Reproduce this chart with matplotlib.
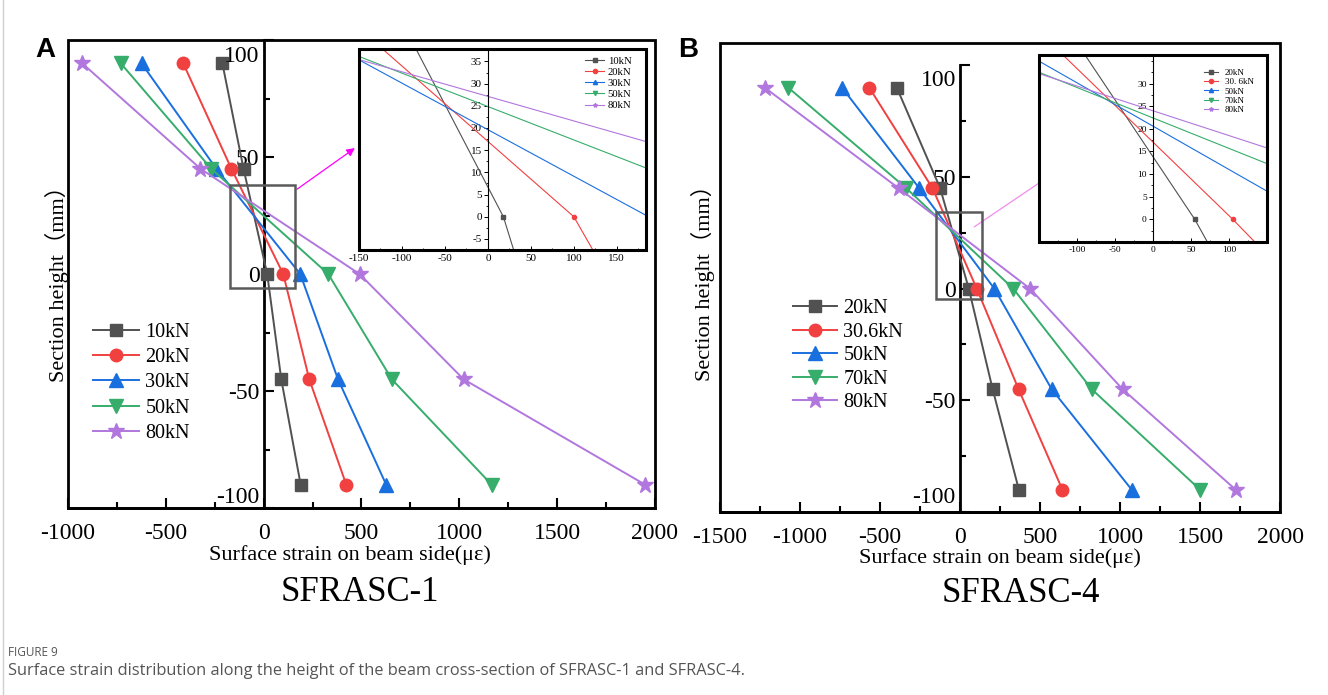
import numpy as np
import matplotlib
matplotlib.use('Agg')
import matplotlib.pyplot as plt
from matplotlib.patches import Rectangle
from matplotlib.lines import Line2D

plt.rcParams['font.family'] = ['Liberation Serif', 'Noto Sans CJK SC']
plt.rcParams['axes.unicode_minus'] = False

# ---- data (strain in micro-strain, height in mm) ----
heights = [90, 45, 0, -45, -90]

labels_1 = ['10kN', '20kN', '30kN', '50kN', '80kN']
s1_10kN = [-211, -103, 18, 90, 189]
s1_20kN = [-411, -165, 100, 233, 422]
s1_30kN = [-624, -242, 187, 380, 626]
s1_50kN = [-730, -268, 330, 655, 1165]
s1_80kN = [-927, -323, 490, 1022, 1949]

labels_4 = ['20kN', '30.6kN', '50kN', '70kN', '80kN']
inset_labels_4 = ['20kN', '30. 6kN', '50kN', '70kN', '80kN']
s4_20kN = [-395, -124, 55, 204, 368]
s4_306kN = [-567, -172, 105, 366, 640]
s4_50kN = [-737, -255, 215, 573, 1073]
s4_70kN = [-1073, -336, 333, 823, 1500]
s4_80kN = [-1220, -384, 438, 1016, 1723]

COLORS = ['#515151', '#F14040', '#1A6FDF', '#37AD6B', '#B177DE']
MARKERS = ['s', 'o', '^', 'v', '*']
MSIZE = [8, 9, 9.5, 9.5, 12]

W, H = 1328, 695


def fig_box(left, top, right, bottom):
    """pixel box -> figure fraction rect"""
    return [left / W, 1 - bottom / H, (right - left) / W, (bottom - top) / H]


def add_frame(ax, lw):
    ax.add_patch(Rectangle((0, 0), 1, 1, transform=ax.transAxes, fill=False,
                           lw=lw, ec='black', clip_on=False, zorder=6))


def main_panel(ax, series, labels, xlim, ylim, xmaj, end_pos):
    for vals, lab, c, m, ms in zip(series, labels, COLORS, MARKERS, MSIZE):
        ax.plot(vals, heights, color=c, marker=m, ms=ms, lw=1.4,
                mec=c, label=lab, clip_on=False, zorder=3)
    ax.set_xlim(*xlim)
    ax.set_ylim(*ylim)
    ax.spines['left'].set_position(('data', 0))
    ax.spines['left'].set_bounds(-100, 100)
    for s in ['top', 'right']:
        ax.spines[s].set_visible(False)
    for s in ['left', 'bottom']:
        ax.spines[s].set_linewidth(2)
    ax.set_xticks(np.arange(xlim[0], xlim[1] + 1, xmaj))
    ax.set_xticks(np.arange(xlim[0], xlim[1] + 1, xmaj / 2), minor=True)
    # end labels are nudged inward in the original, drawn separately below
    ax.set_yticks([-100, -50, 0, 50, 100], labels=['', '-50', '0', '50', ''])
    ax.set_yticks([-75, -25, 25, 75], minor=True)
    ax.tick_params(which='both', direction='in', width=1.5, labelsize=17)
    ax.tick_params(which='major', length=7)
    ax.tick_params(which='minor', length=4)
    ax.tick_params(axis='x', pad=11)
    ax.tick_params(axis='y', pad=3)
    for txt, y in zip(['100', '-100'], end_pos):
        ax.annotate(txt, xy=(0, y), xytext=(-3, 0), textcoords='offset points',
                    ha='right', va='center', fontsize=17)
    add_frame(ax, 2)


def inset_panel(ax, series, labels, xlim, ylim, xticks, yticks, fs, leg_kw):
    for vals, lab, c, m in zip(series, labels, COLORS, MARKERS):
        ax.plot(vals, heights, color=c, marker=m, ms=3, lw=0.8, label=lab)
    ax.set_xlim(*xlim)
    ax.set_ylim(*ylim)
    ax.spines['left'].set_position(('data', 0))
    for s in ['top', 'right']:
        ax.spines[s].set_visible(False)
    ax.spines['left'].set_linewidth(0.8)
    ax.set_xticks(xticks, labels=[str(v) for v in xticks])
    ax.set_xticks(np.arange(xlim[0] // 25 * 25, xlim[1], 25), minor=True)
    ax.set_yticks(yticks, labels=[str(v) for v in yticks])
    ax.set_yticks(np.arange(-5, 36, 2.5), minor=True)
    ax.tick_params(axis='x', which='both', direction='in', labelsize=fs, pad=3)
    ax.tick_params(axis='y', which='both', direction='out', labelsize=fs, pad=1.5)
    ax.tick_params(which='major', length=3, width=0.7)
    ax.tick_params(which='minor', length=1.8, width=0.6)
    ax.legend(frameon=False, fontsize=fs - 0.3, **leg_kw)
    add_frame(ax, 2.2)


fig = plt.figure(figsize=(W / 100, H / 100), dpi=100)

# ------------------------------------------------------------------ panel A
axA = fig.add_axes(fig_box(68, 40, 655, 508))
series_1 = [s1_10kN, s1_20kN, s1_30kN, s1_50kN, s1_80kN]
main_panel(axA, series_1, labels_1, (-1000, 2000), (-100, 100), 500, (93, -95.5))
axA.add_patch(Rectangle((-174, -6), 332, 44, fill=False, ec='#5a5a5a', lw=1.8, zorder=4))
axA.annotate('', xy=(478, 54.5), xytext=(158, 35.5),
             arrowprops=dict(arrowstyle='-|>', color='#ff00ff', lw=0.9, mutation_scale=12))
axA.legend(loc='upper left', bbox_to_anchor=(83 / W, 1 - 313 / H),
           bbox_transform=fig.transFigure, frameon=False, fontsize=14.5,
           handlelength=2.3, handletextpad=0.3, labelspacing=0.3, borderpad=0)
axA.text(0.48, -0.10, 'Surface strain on beam side(με)', transform=axA.transAxes,
         ha='center', va='center', fontsize=16)
axA.text(0.497, -0.18, 'SFRASC-1', transform=axA.transAxes,
         ha='center', va='center', fontsize=25)
axA.text(-0.019, 0.49, 'Section height（mm）', transform=axA.transAxes, rotation=90,
         ha='center', va='center', fontsize=16)

insA = fig.add_axes(fig_box(359, 49, 646, 250))
inset_panel(insA, series_1, labels_1, (-150, 184), (-7.5, 37.8),
            [-150, -100, -50, 0, 50, 100, 150], list(range(-5, 36, 5)), 8,
            dict(loc='upper right', bbox_to_anchor=(0.975, 1.0), handlelength=1.8,
                 handletextpad=0.3, labelspacing=0.15, borderpad=0.2))

# ------------------------------------------------------------------ panel B
axB = fig.add_axes(fig_box(720, 43, 1280, 512))
series_4 = [s4_20kN, s4_306kN, s4_50kN, s4_70kN, s4_80kN]
main_panel(axB, series_4, labels_4, (-1500, 2000), (-100, 110), 500, (93, -93.5))
axB.add_patch(Rectangle((-153, -4.6), 290, 39, fill=False, ec='#5a5a5a', lw=1.8, zorder=4))
axB.annotate('', xy=(560, 50.5), xytext=(75, 27),
             arrowprops=dict(arrowstyle='-|>', color='#f08cf0', lw=0.9, mutation_scale=12))
axB.legend(loc='upper left', bbox_to_anchor=(783 / W, 1 - 289 / H),
           bbox_transform=fig.transFigure, frameon=False, fontsize=14.5,
           handlelength=2.2, handletextpad=0.3, labelspacing=0.22, borderpad=0)
axB.text(0.50, -0.098, 'Surface strain on beam side(με)', transform=axB.transAxes,
         ha='center', va='center', fontsize=16)
axB.text(0.538, -0.173, 'SFRASC-4', transform=axB.transAxes,
         ha='center', va='center', fontsize=25)
axB.text(-0.03, 0.5, 'Section height（mm）', transform=axB.transAxes, rotation=90,
         ha='center', va='center', fontsize=16)

insB = fig.add_axes(fig_box(1039, 55, 1267, 242))
inset_panel(insB, series_4, inset_labels_4, (-146, 150), (-4, 36.3),
            [-100, -50, 0, 50, 100], list(range(0, 31, 5)), 6.8,
            dict(loc='upper right', bbox_to_anchor=(0.97, 0.96), handlelength=1.5,
                 handletextpad=0.8, labelspacing=0.1, borderpad=0.2))

# ------------------------------------------------------------------ page bits
fig.text(45 / W, 1 - 50 / H, 'A', family='Liberation Sans', weight='bold',
         fontsize=20, ha='center', va='center')
fig.text(688 / W, 1 - 50 / H, 'B', family='Liberation Sans', weight='bold',
         fontsize=20, ha='center', va='center')
fig.text(8 / W, 1 - 653 / H, 'FIGURE 9', family='Open Sans', fontsize=8.5,
         color='#555555', ha='left', va='center')
fig.text(8 / W, 1 - 671 / H,
         'Surface strain distribution along the height of the beam cross-section of SFRASC-1 and SFRASC-4.',
         family='Open Sans', fontsize=11.8, color='#555555', ha='left', va='center')
fig.add_artist(Line2D([3.5 / W, 3.5 / W], [0, 1], transform=fig.transFigure,
                      color='#d0d0d0', lw=1))

fig.savefig('out.png', dpi=100)
